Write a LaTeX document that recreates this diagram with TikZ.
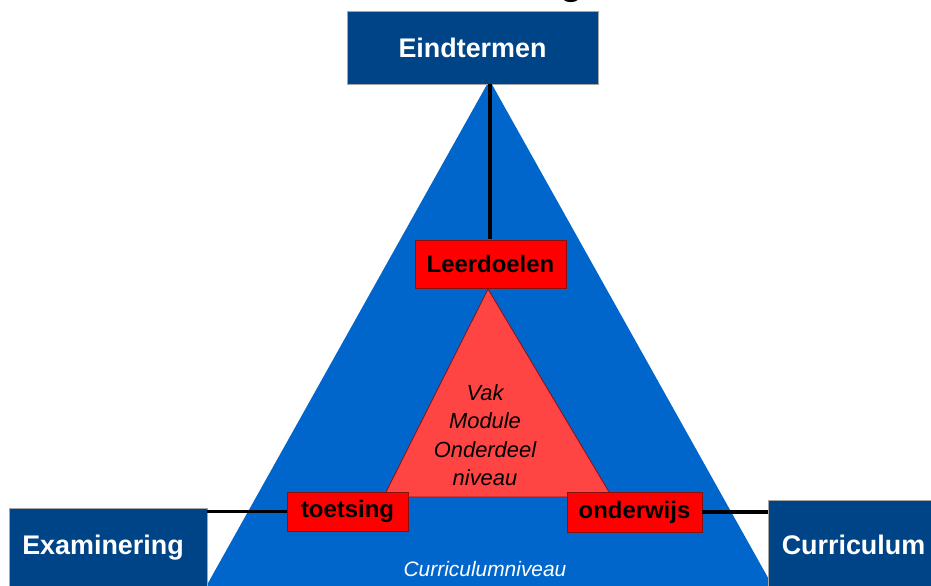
\documentclass[tikz,border=0pt]{standalone}
\usepackage{fontspec}
\setmainfont{Liberation Sans}
\definecolor{triblue}{HTML}{0066CC}
\definecolor{boxblue}{HTML}{004488}
\definecolor{boxred}{HTML}{FF0000}
\definecolor{trired}{HTML}{FF4444}
\definecolor{edgered}{HTML}{8A1010}
\begin{document}
\begin{tikzpicture}[x=1bp,y=-1bp,
  bluebox/.style={draw=gray!70,line width=0.8bp,fill=boxblue,text=white,inner sep=0pt,
    font=\fontsize{27}{30}\selectfont\bfseries},
  redbox/.style={draw=edgered,line width=0.8bp,fill=boxred,text=black,inner sep=0pt,
    font=\fontsize{24}{28}\selectfont\bfseries},
  link/.style={draw=black,line width=3.5bp}]
\useasboundingbox (0,0) rectangle (931,586);
% partial title glyph
\node[anchor=base,inner sep=0pt,font=\fontsize{44}{48}\selectfont] (ttl) at (572,-6) {g};
% big blue triangle
\fill[triblue] (489.5,80) -- (170,651) -- (809,651) -- cycle;
% inner red triangle
\filldraw[fill=trired,draw=edgered,line width=0.8bp] (488,289) -- (383.5,497) -- (612,497) -- cycle;
\node[align=center,inner sep=0pt,font=\fontsize{22}{28.5}\selectfont\itshape] (vak) at (485,435)
  {Vak\\Module\\Onderdeel\\niveau};
% boxes
\node[bluebox,minimum width=251bp,minimum height=73bp] (eind) at (472.5,47.5) {Eindtermen};
\node[redbox,minimum width=151bp,minimum height=48bp] (leer) at (490.5,264) {Leerdoelen};
\node[redbox,minimum width=121bp,minimum height=39bp] (toets) at (347.5,511.5) {toetsing};
\node[redbox,minimum width=135bp,minimum height=40bp] (onder) at (634.5,512) {onderwijs};
\node[bluebox,minimum width=198bp,minimum height=80bp] (exam) at (108,548) {Examinering\hspace*{10bp}};
\node[bluebox,minimum width=171bp,minimum height=90bp] (curr) at (853.5,545) {Curriculum};
% connectors
\draw[link] (490,84.5) -- (490,239.5);
\draw[link] (exam.east |- toets.west) -- (toets.west);
\draw[link] (onder.east) -- (onder.east -| curr.west);
% label
\node[text=white,inner sep=0pt,font=\fontsize{21}{24}\selectfont\itshape] (cn) at (485,569) {Curriculumniveau};
\end{tikzpicture}
\end{document}
